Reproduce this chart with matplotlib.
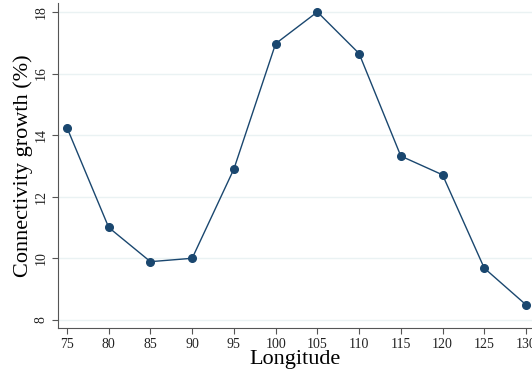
import matplotlib
matplotlib.use("Agg")
import matplotlib.pyplot as plt

longitude = [75, 80, 85, 90, 95, 100, 105, 110, 115, 120, 125, 130]
growth = [14.24, 11.0, 9.89, 10.0, 12.9, 16.97, 18.0, 16.65, 13.32, 12.71, 9.68, 8.49]
x_ticks = list(range(75, 135, 5))
y_ticks = [8, 10, 12, 14, 16, 18]

_LINE = '#1a476f'
_GRID = '#eaf2f3'
_SPINE = '#555555'

plt.rcParams.update({
    'font.family': ['Liberation Serif', 'DejaVu Serif'],
})

fig = plt.figure(figsize=(5.32, 3.76), dpi=100)
ax = fig.add_axes([0.109, 0.128, 0.891, 0.864])

ax.yaxis.grid(True, color=_GRID, linewidth=1.0, zorder=0)
ax.set_axisbelow(True)

ax.plot(longitude, growth, color=_LINE, lw=1.0, marker='o', ms=5.5,
        markerfacecolor=_LINE, markeredgecolor=_LINE, zorder=3, clip_on=False)

ax.set_xlim(73.92, 130.72)
ax.set_ylim(7.74, 18.29)
ax.set_xticks(x_ticks)
ax.set_yticks(y_ticks)
ax.set_yticklabels([str(v) for v in y_ticks], rotation=90, va='center')

ax.spines[['top', 'right']].set_visible(False)
ax.spines['left'].set_color(_SPINE)
ax.spines['bottom'].set_color(_SPINE)
ax.tick_params(axis='both', colors='#222222', labelsize=10, length=4, width=0.8,
               direction='out')
ax.tick_params(axis='both', color=_SPINE)

ax.set_xlabel('Longitude', fontsize=16, labelpad=-1)
ax.set_ylabel('Connectivity growth (%)', fontsize=16, labelpad=1)

fig.savefig('out.png', dpi=100)
